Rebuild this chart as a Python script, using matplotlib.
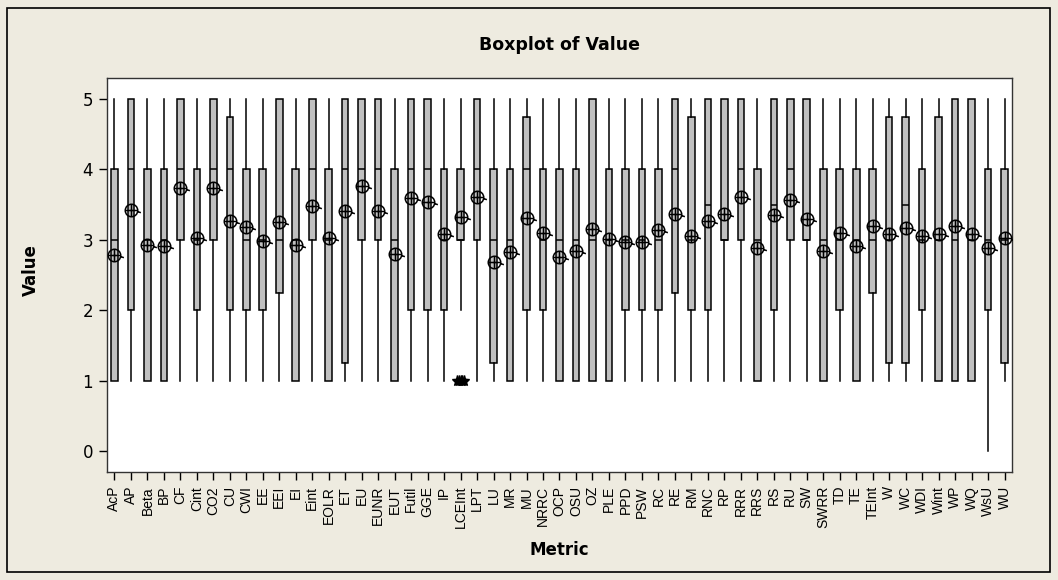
import matplotlib
matplotlib.use('Agg')

import matplotlib.pyplot as plt
from matplotlib.patches import Rectangle
from matplotlib.path import Path

metrics = ['AcP', 'AP', 'Beta', 'BP', 'CF', 'Cint', 'CO2', 'CU', 'CWI', 'EE',
           'EEI', 'EI', 'Eint', 'EOLR', 'ET', 'EU', 'EUNR', 'EUT', 'Futil', 'GGE',
           'IP', 'LCEInt', 'LPT', 'LU', 'MR', 'MU', 'NRRC', 'OCP', 'OSU', 'OZ',
           'PLE', 'PPD', 'PSW', 'RC', 'RE', 'RM', 'RNC', 'RP', 'RRR', 'RRS',
           'RS', 'RU', 'SW', 'SWRR', 'TD', 'TE', 'TEInt', 'W', 'WC', 'WDI',
           'Wint', 'WP', 'WQ', 'WsU', 'WU']

whisker_low = [1, 1, 1, 1, 1, 1, 1, 1, 1, 1,
               1, 1, 1, 1, 1, 1, 1, 1, 1, 1,
               1, 2, 1, 1, 1, 1, 1, 1, 1, 1,
               1, 1, 1, 1, 1, 1, 1, 1, 1, 1,
               1, 1, 1, 1, 1, 1, 1, 1, 1, 1,
               1, 1, 1, 0, 1]
q1 = [1, 2, 1, 1, 3, 2, 3, 2, 2, 2,
      2.25, 1, 3, 1, 1.25, 3, 3, 1, 2, 2,
      2, 3, 3, 1.25, 1, 2, 2, 1, 1, 1,
      1, 2, 2, 2, 2.25, 2, 2, 3, 3, 1,
      2, 3, 3, 1, 2, 1, 2.25, 1.25, 1.25, 2,
      1, 1, 1, 2, 1.25]
medians = [3, 4, 3, 3, 4, 3, 4, 4, 3, 3,
           3, 3, 4, 3, 4, 4, 4, 3, 4, 4,
           3, 3, 4, 3, 3, 4, 3, 3, 3, 3,
           3, 3, 3, 3, 4, 3, 3.5, 3, 4, 3,
           3.5, 4, 3, 3, 3, 3, 3, 3, 3.5, 3,
           3, 3, 3, 3, 3]
q3 = [4, 5, 4, 4, 5, 4, 5, 4.75, 4, 4,
      5, 4, 5, 4, 5, 5, 5, 4, 5, 5,
      4, 4, 5, 4, 4, 4.75, 4, 4, 4, 5,
      4, 4, 4, 4, 5, 4.75, 5, 5, 5, 4,
      5, 5, 5, 4, 4, 4, 4, 4.75, 4.75, 4,
      4.75, 5, 5, 4, 4]
whisker_high = [5] * 55
means = [2.78, 3.43, 2.93, 2.91, 3.74, 3.03, 3.74, 3.27, 3.18, 2.99,
         3.25, 2.92, 3.48, 3.02, 3.41, 3.76, 3.41, 2.80, 3.59, 3.54,
         3.08, 3.33, 3.61, 2.69, 2.83, 3.31, 3.09, 2.75, 2.84, 3.16,
         3.01, 2.97, 2.97, 3.14, 3.37, 3.06, 3.27, 3.37, 3.61, 2.89,
         3.35, 3.56, 3.29, 2.84, 3.10, 2.91, 3.19, 3.08, 3.17, 3.06,
         3.08, 3.19, 3.08, 2.89, 3.03]
# outliers (only LCEInt has some, all at 1)
outliers = {'LCEInt': [1, 1, 1, 1, 1]}

bg = '#EEEBE0'
fig = plt.figure(figsize=(10.58, 5.80), dpi=100, facecolor=bg)
fig.patches.append(Rectangle((7 / 1058, 8 / 580), 1043 / 1058, 564 / 580,
                             transform=fig.transFigure, fill=False,
                             edgecolor='black', linewidth=1.2))
ax = fig.add_axes([107 / 1058, 108 / 580, 905 / 1058, 394 / 580])
ax.set_facecolor('white')

stats = []
for i in range(len(metrics)):
    stats.append({'whislo': whisker_low[i], 'q1': q1[i], 'med': medians[i],
                  'q3': q3[i], 'whishi': whisker_high[i], 'mean': means[i],
                  'fliers': []})
pos = list(range(1, len(metrics) + 1))
ax.bxp(stats, positions=pos, widths=0.4, patch_artist=True, showcaps=False,
       showfliers=False, showmeans=False,
       boxprops=dict(facecolor='#C0C0C0', edgecolor='black', linewidth=1.1),
       medianprops=dict(color='black', linewidth=1.1),
       whiskerprops=dict(color='black', linewidth=1.1))

# minitab mean symbol: circle with a cross and a little tail on the right
circ = Path.circle((0, 0), 1.0)
cross = Path([(-1, 0), (1, 0), (0, -1), (0, 1)],
             [Path.MOVETO, Path.LINETO, Path.MOVETO, Path.LINETO])
tail = Path([(0.9, -0.15), (1.5, -0.35)], [Path.MOVETO, Path.LINETO])
mean_marker = Path.make_compound_path(circ, cross, tail)
ax.plot(pos, means, linestyle='none', marker=mean_marker, markersize=13.5,
        markerfacecolor='none', markeredgecolor='black', markeredgewidth=1.1, zorder=5)

# outlier stars, spread a little sideways like minitab
jitter = [-0.22, -0.11, 0.0, 0.11, 0.22]
for name in outliers:
    x0 = metrics.index(name) + 1
    vals = outliers[name]
    ax.plot([x0 + jitter[k] for k in range(len(vals))], vals, linestyle='none',
            marker='*', markersize=8, color='black', zorder=5)

ax.set_xlim(0.55, 55.45)
ax.set_ylim(-0.3, 5.3)
ax.set_yticks([0, 1, 2, 3, 4, 5])
ax.set_yticklabels(['0', '1', '2', '3', '4', '5'], fontsize=12, family='DejaVu Sans')
ax.set_xticks(pos)
ax.set_xticklabels(metrics, rotation=90, fontsize=10, family='Liberation Sans')
ax.tick_params(axis='both', direction='out', length=6, width=1, pad=4)
for s in ax.spines.values():
    s.set_linewidth(1.0)
    s.set_color('#333333')

fig.text(559.5 / 1058, 1 - 45 / 580, 'Boxplot of Value', ha='center', va='center',
         fontsize=12.5, fontweight='bold', family='DejaVu Sans')
fig.text(559.5 / 1058, 1 - 550 / 580, 'Metric', ha='center', va='center',
         fontsize=12, fontweight='bold', family='DejaVu Sans')
fig.text(31 / 1058, 1 - 270 / 580, 'Value', ha='center', va='center', rotation=90,
         fontsize=12, fontweight='bold', family='DejaVu Sans')

fig.savefig('out.png', dpi=100, facecolor=bg)
